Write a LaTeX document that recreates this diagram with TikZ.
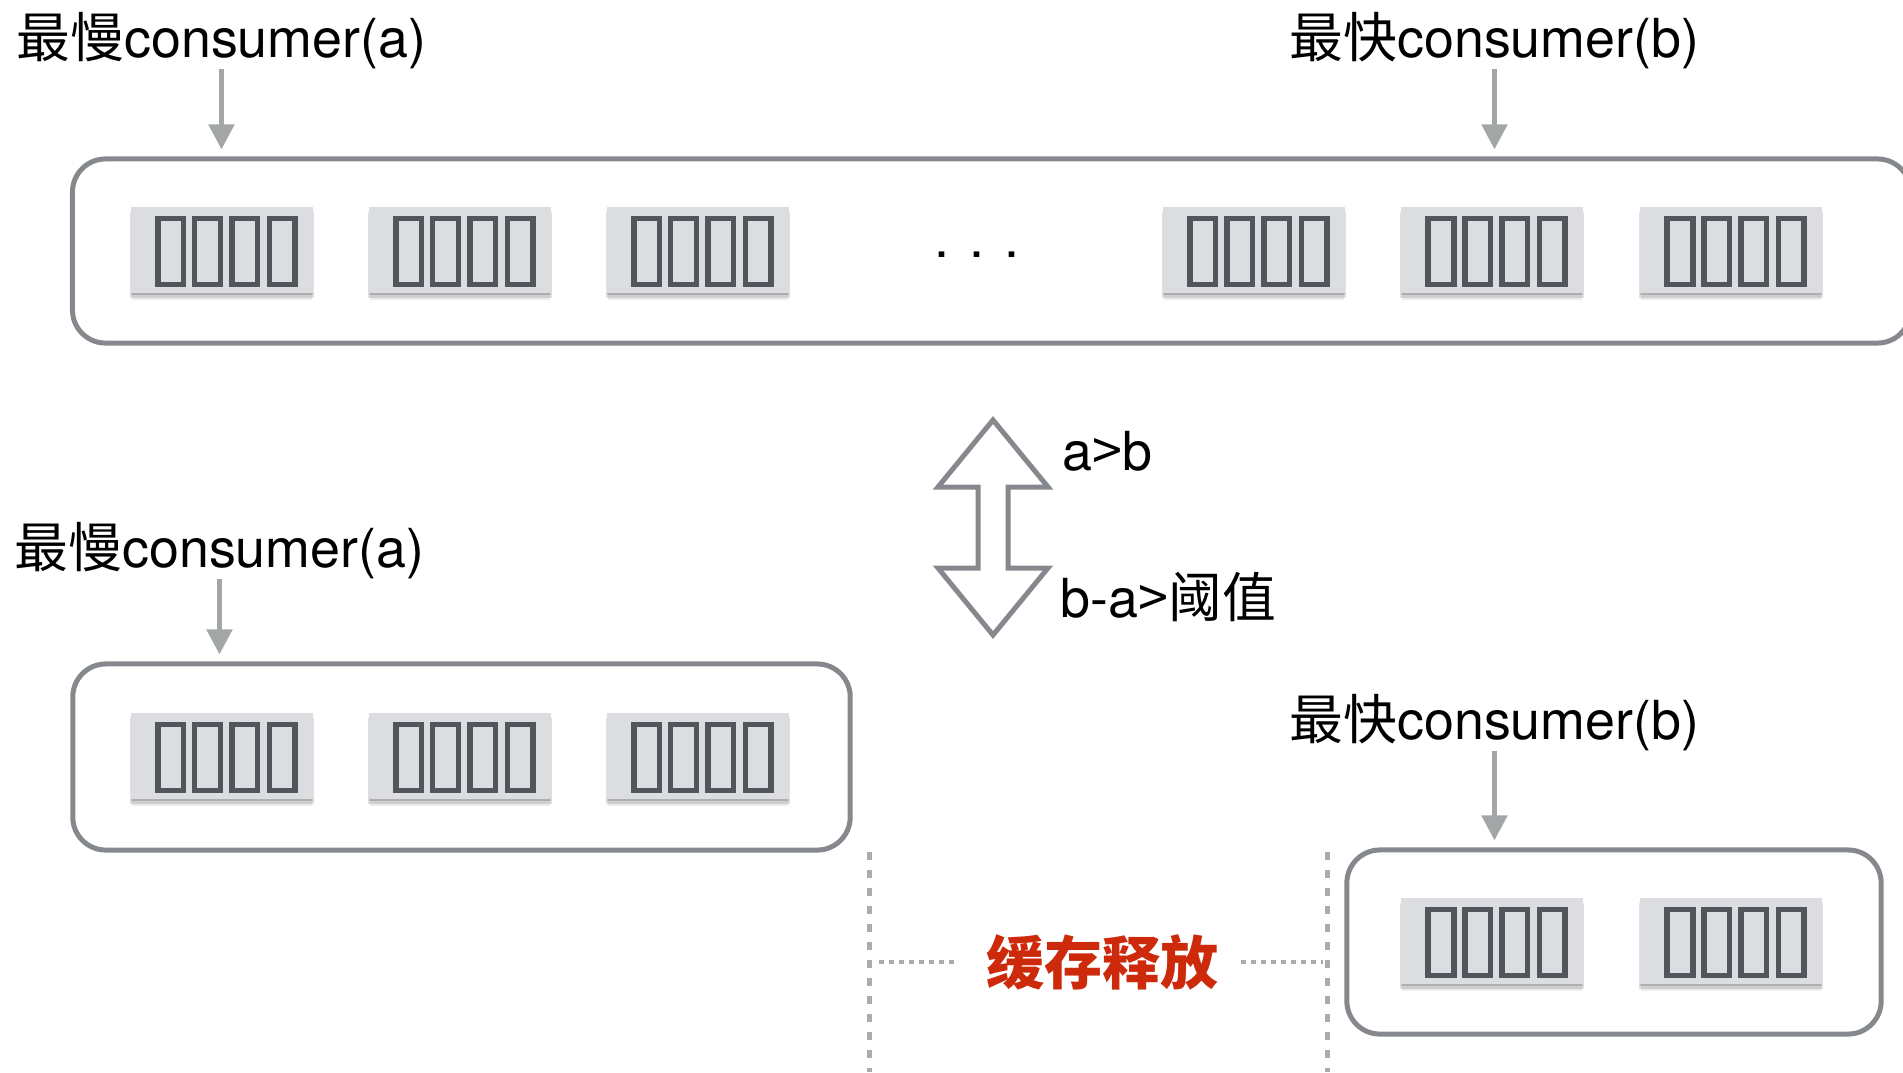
\documentclass[tikz,border=0pt]{standalone}
\usepackage{fontspec}
\setmainfont{TeX Gyre Heros}
\newfontfamily\cjk{Noto Sans CJK SC}
\usepackage{xcolor}
\usepackage{tikz}
\usetikzlibrary{shapes,arrows,positioning,calc,arrows.meta,shadows}

\definecolor{boxgray}{HTML}{85888C}
\definecolor{arrgray}{HTML}{A3A6A7}
\definecolor{blkfill}{HTML}{DCDDE0}
\definecolor{tofugray}{HTML}{50565C}
\definecolor{dashgray}{HTML}{A9ABAC}
\definecolor{relred}{HTML}{CC2A0B}

\begin{document}
\begin{tikzpicture}[x=0.01cm, y=-0.01cm,
    qbox/.style={draw=boxgray, line width=0.05cm, rounded corners=0.33cm, inner sep=0},
    blk/.style={fill=blkfill, minimum width=1.82cm, minimum height=0.85cm, inner sep=0,
        drop shadow={shadow xshift=0cm, shadow yshift=-0.075cm, shadow scale=0.99, opacity=0.08, fill=black},
        drop shadow={shadow xshift=0cm, shadow yshift=-0.05cm, shadow scale=1.01, opacity=0.12, fill=black},
        drop shadow={shadow xshift=0cm, shadow yshift=-0.025cm, opacity=0.15, fill=black},
        path picture={
            \foreach \dx in {-0.51,-0.145,0.225,0.603}
                \draw[tofugray, line width=0.055cm]
                    ([xshift=\dx cm, yshift=-0.015cm]path picture bounding box.center)
                    +(-0.1275cm,-0.33cm) rectangle +(0.1275cm,0.33cm);
        }},
    lbl/.style={font=\fontsize{15.3}{18}\selectfont, inner sep=0, anchor=base west},
    garrow/.style={draw=arrgray, line width=0.05cm, -{Triangle[width=0.25cm, length=0.25cm]}, shorten >=0.07cm},
    dblarrow/.style={draw=boxgray, line width=0.05cm, line join=miter},
    sep/.style={draw=dashgray, line width=0.05cm, dash pattern=on 0.08cm off 0.1cm},
    dotln/.style={draw=dashgray, line width=0.045cm, dash pattern=on 0.045cm off 0.055cm}
]
    \useasboundingbox (0,0) rectangle (1903,1072);

    \node[qbox, minimum width=18.37cm, minimum height=1.84cm] (q1) at (991.5,251) {};
    \foreach \x [count=\i] in {222,460,698,1254,1492,1731}
        \node[blk] (t\i) at (\x,250) {};
    \node[lbl, anchor=base] (dots) at (977,257) {. . .};

    \node[lbl] (a1) at (16,57) {{\cjk 最慢}consumer(a)};
    \node[lbl] (b1) at (1289,57) {{\cjk 最快}consumer(b)};
    \draw[garrow] (a1.south) -- (a1.south |- q1.north);
    \draw[garrow] (b1.south) -- (b1.south |- q1.north);

    \coordinate (mid) at (993,527.5);
    \draw[dblarrow] (mid) ++(0,-107.5) -- ++(55,67) -- ++(-40,0) -- ++(0,81) -- ++(40,0)
        -- ++(-55,67) -- ++(-55,-67) -- ++(40,0) -- ++(0,-81) -- ++(-40,0) -- cycle;
    \node[lbl] (c1) at (1062,470) {a{\cjk >}b};
    \node[lbl] (c2) at (1060,617) {b-a{\cjk >阈值}};

    \node[qbox, minimum width=7.77cm, minimum height=1.86cm] (q2) at (461.5,757) {};
    \foreach \x [count=\i] in {222,460,698}
        \node[blk] (m\i) at (\x,756) {};
    \node[lbl] (a2) at (14,567) {{\cjk 最慢}consumer(a)};
    \draw[garrow] (a2.south) -- (a2.south |- q2.north);

    \node[qbox, minimum width=5.34cm, minimum height=1.84cm] (q3) at (1614,942) {};
    \foreach \x [count=\i] in {1492,1731}
        \node[blk] (r\i) at (\x,941) {};
    \node[lbl] (b2) at (1289,739) {{\cjk 最快}consumer(b)};
    \draw[garrow] (b2.south) -- (b2.south |- q3.north);

    \coordinate (s1t) at (869,852);
    \coordinate (s1b) at (869,1072);
    \coordinate (s2t) at (1327,852);
    \coordinate (s2b) at (1327,1072);
    \draw[sep] (s1t) -- (s1b);
    \draw[sep] (s2t) -- (s2b);
    \node[font=\cjk\bfseries\fontsize{16.5}{20}\selectfont, text=relred, inner sep=0] (rel) at (1102.5,962) {缓存释放};
    \draw[dotln, shorten <=0.1cm, shorten >=0.27cm] (rel.west -| s1t) -- (rel.west);
    \draw[dotln, shorten <=0.22cm, shorten >=0.04cm] (rel.east) -- (rel.east -| s2t);
\end{tikzpicture}
\end{document}
